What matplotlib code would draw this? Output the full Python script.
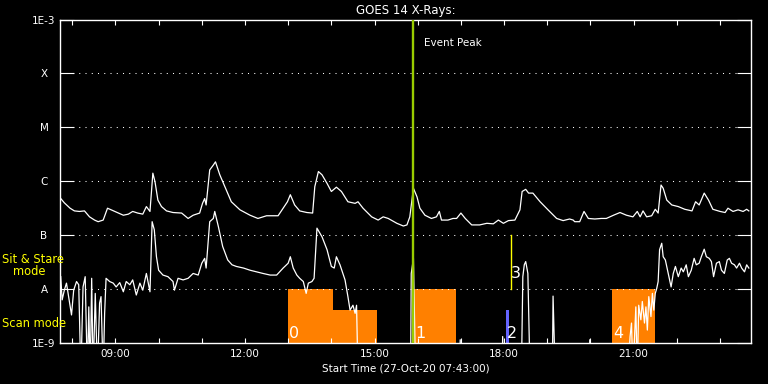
import numpy as np
import matplotlib
matplotlib.use("Agg")
import matplotlib.pyplot as plt
from matplotlib.ticker import NullLocator

# start of the plot window, minutes after midnight (07:43)
t0 = 7 * 60 + 43

# GOES long channel (1-8 A): minutes after start, log10 flux
long_t = [1, 6, 14, 20, 27, 34, 41, 48, 53, 60,
          66, 71, 81, 88, 95, 101, 108, 115, 120, 125,
          129, 132, 136, 141, 148, 157, 169, 178, 185, 194,
          198, 201, 203, 208, 213, 216, 222, 229, 238, 250,
          264, 275, 287, 303, 310, 316, 320, 326, 333, 343,
          351, 354, 359, 364, 371, 377, 384, 391, 400, 410,
          414, 421, 433, 442, 449, 456, 468, 477, 482, 486,
          491, 496, 500, 507, 516, 523, 527, 530, 539, 546,
          551, 557, 563, 572, 583, 593, 602, 609, 616, 623,
          632, 639, 642, 647, 651, 657, 667, 678, 690, 699,
          708, 713, 715, 722, 728, 734, 743, 752, 759, 769,
          778, 787, 796, 802, 806, 810, 815, 822, 827, 831,
          835, 838, 843, 850, 859, 868, 878, 883, 888, 895,
          901, 907, 917, 924, 928, 935, 942, 949, 954, 957]
long_log = [-6.32, -6.40, -6.50, -6.55, -6.56, -6.55, -6.66, -6.72, -6.75, -6.72,
            -6.50, -6.53, -6.59, -6.63, -6.61, -6.56, -6.59, -6.61, -6.47, -6.56,
            -5.85, -6.01, -6.35, -6.47, -6.55, -6.58, -6.59, -6.69, -6.63, -6.59,
            -6.41, -6.32, -6.44, -5.79, -5.70, -5.64, -5.88, -6.10, -6.38, -6.53,
            -6.63, -6.69, -6.64, -6.64, -6.50, -6.38, -6.25, -6.44, -6.55, -6.58,
            -6.59, -6.10, -5.82, -5.88, -6.04, -6.19, -6.11, -6.19, -6.38, -6.41,
            -6.38, -6.50, -6.66, -6.72, -6.66, -6.69, -6.78, -6.83, -6.81, -6.66,
            -6.13, -6.29, -6.50, -6.63, -6.69, -6.66, -6.56, -6.72, -6.72, -6.69,
            -6.69, -6.59, -6.69, -6.81, -6.81, -6.78, -6.79, -6.72, -6.78, -6.73,
            -6.72, -6.53, -6.19, -6.15, -6.22, -6.22, -6.38, -6.53, -6.69, -6.73,
            -6.70, -6.72, -6.75, -6.75, -6.56, -6.69, -6.70, -6.69, -6.69, -6.63,
            -6.58, -6.63, -6.66, -6.56, -6.66, -6.55, -6.66, -6.64, -6.52, -6.59,
            -6.07, -6.13, -6.35, -6.44, -6.47, -6.52, -6.55, -6.38, -6.44, -6.22,
            -6.35, -6.52, -6.56, -6.58, -6.50, -6.56, -6.53, -6.56, -6.52, -6.55]

# GOES short channel (0.5-4 A); -9.6 means below the bottom of the plot
short_t = [1, 3, 6, 9, 12, 16, 19, 23, 26, 29,
           32, 35, 38, 40, 42, 44, 46, 49, 52, 55,
           57, 60, 62, 64, 69, 74, 78, 83, 88, 92,
           97, 101, 106, 111, 115, 120, 125, 128, 131, 134,
           137, 143, 150, 157, 159, 164, 171, 178, 185, 192,
           197, 201, 203, 208, 213, 215, 220, 226, 233, 239,
           245, 255, 264, 273, 282, 292, 301, 310, 317, 320,
           324, 329, 333, 338, 342, 345, 350, 353, 357, 364,
           371, 377, 381, 384, 389, 396, 400, 403, 407, 410,
           412, 414, 487, 488, 491, 494, 555, 556, 557, 614,
           615, 616, 641, 643, 645, 647, 650, 653, 684, 685,
           688, 735, 736, 737, 789, 792, 794, 796, 800, 802,
           804, 807, 809, 812, 814, 816, 818, 821, 823, 825,
           827, 829, 831, 833, 836, 838, 841, 845, 849, 852,
           855, 859, 863, 866, 870, 873, 877, 881, 884, 888,
           891, 895, 898, 902, 905, 908, 912, 916, 919, 923,
           927, 930, 933, 937, 940, 944, 947, 951, 954, 957]
short_log = [-7.77, -8.20, -8.02, -7.89, -8.14, -8.48, -8.02, -7.86, -7.92, -9.6,
             -7.96, -7.77, -9.6, -8.33, -9.6, -7.80, -9.6, -8.08, -9.6, -8.26,
             -8.14, -9.6, -8.45, -7.80, -7.86, -7.89, -7.96, -7.88, -8.05, -7.86,
             -7.92, -7.83, -8.11, -7.89, -8.02, -7.71, -8.05, -6.75, -6.90, -7.40,
             -7.65, -7.74, -7.77, -7.86, -8.02, -7.80, -7.83, -7.80, -7.71, -7.74,
             -7.52, -7.43, -7.61, -6.75, -6.69, -6.56, -6.84, -7.21, -7.46, -7.55,
             -7.58, -7.61, -7.65, -7.68, -7.71, -7.74, -7.74, -7.61, -7.52, -7.40,
             -7.61, -7.74, -7.80, -7.86, -8.08, -7.89, -7.86, -7.80, -6.87, -7.03,
             -7.27, -7.58, -7.61, -7.40, -7.55, -7.83, -8.14, -8.39, -8.30, -8.45,
             -8.30, -9.6, -9.6, -7.71, -7.43, -9.6, -9.6, -8.94, -9.6, -9.6,
             -8.88, -9.6, -9.6, -7.77, -7.55, -7.49, -7.71, -9.6, -9.6, -8.13,
             -9.6, -9.6, -8.94, -9.6, -9.6, -8.88, -8.63, -9.6, -8.33, -9.6,
             -8.30, -8.57, -8.23, -8.63, -8.33, -8.76, -8.14, -8.51, -8.08, -8.39,
             -8.08, -7.99, -7.86, -7.27, -7.15, -7.40, -7.46, -7.71, -7.96, -7.71,
             -7.58, -7.77, -7.61, -7.68, -7.55, -7.77, -7.65, -7.43, -7.55, -7.52,
             -7.40, -7.26, -7.40, -7.43, -7.49, -7.77, -7.52, -7.49, -7.65, -7.71,
             -7.46, -7.43, -7.52, -7.55, -7.61, -7.52, -7.61, -7.68, -7.55, -7.61]

# observation blocks (orange), minutes after start
obs_start = [317, 379, 492, 767]
obs_end = [379, 440, 550, 827]
obs_top = [1e-8, 4.1e-9, 1e-8, 1e-8]

# other event markers
scan_start, scan_end, scan_top = 620, 624, 4.1e-9   # blue bar "2"
stare_t, stare_lo, stare_hi = 626, 1e-8, 1e-7       # yellow line "3"
peak_t = 490

event_labels = ['0', '1', '2', '3', '4']
label_t = [318, 493, 621, 627, 768]
label_y = [1.22e-9, 1.22e-9, 1.22e-9, 1.58e-8, 1.22e-9]

ytick_vals = [1e-9, 1e-8, 1e-7, 1e-6, 1e-5, 1e-4, 1e-3]
ytick_text = ['1E-9', 'A', 'B', 'C', 'M', 'X', '1E-3']
xtick_hours = list(range(8, 24))
xlabel_hours = [9, 12, 15, 18, 21]

fig = plt.figure(figsize=(7.68, 3.84), dpi=100, facecolor='black')
ax = fig.add_axes([60 / 768, 41 / 384, 691 / 768, 323.5 / 384])
ax.set_facecolor('black')
ax.set_yscale('log')
ax.set_xlim(t0, t0 + 960)
ax.set_ylim(1e-9, 1e-3)

# orange observation boxes
for s, e, top in zip(obs_start, obs_end, obs_top):
    ax.bar(t0 + s, top - 1e-9, width=e - s, bottom=1e-9, align='edge',
           color='#ff8000', linewidth=0, zorder=1)
ax.bar(t0 + scan_start, scan_top - 1e-9, width=scan_end - scan_start, bottom=1e-9,
       align='edge', color='#6464ff', linewidth=0, zorder=1)
ax.plot([t0 + stare_t] * 2, [stare_lo, stare_hi], color='#ffff00', lw=1.0, zorder=2)

# dotted class lines
for yv in ytick_vals[1:-1]:
    ax.axhline(yv, color='white', lw=0.75, dashes=(1, 5), zorder=1.5)

ax.plot(t0 + np.array(long_t), 10.0 ** np.array(long_log), color='white', lw=0.9, zorder=2)
ax.plot(t0 + np.array(short_t), 10.0 ** np.array(short_log), color='white', lw=0.9, zorder=2)

ax.axvline(t0 + peak_t, color='#99cc00', lw=1.7, zorder=3)
ax.text(t0 + peak_t + 16, 10 ** -3.50, 'Event Peak', color='white', fontsize=7.5,
        va='baseline', ha='left')

for lab, t, y in zip(event_labels, label_t, label_y):
    ax.text(t0 + t, y, lab, color='white', fontsize=11.5, va='baseline', ha='left', zorder=4)

# axes styling
for sp in ax.spines.values():
    sp.set_color('white')
    sp.set_linewidth(1.0)

ax.yaxis.set_minor_locator(NullLocator())
ax.set_yticks(ytick_vals)
ax.set_yticklabels(ytick_text)
ax.tick_params(axis='y', which='major', direction='in', left=True, right=True,
               length=10, width=0.8, colors='white', labelsize=7.5, pad=11.5)
for lbl in ax.get_yticklabels():
    lbl.set_ha('center')

ax.set_xticks([h * 60 for h in xtick_hours])
ax.set_xticklabels(['%02d:00' % h if h in xlabel_hours else '' for h in xtick_hours])
ax.tick_params(axis='x', which='major', direction='in', top=True, bottom=True,
               length=3.6, width=0.8, colors='white', labelsize=7.5, pad=4.5)

ax.set_title('GOES 14 X-Rays:', color='white', fontsize=8.5, pad=3.8)
fig.text(405.5 / 768, (384 - 371.7) / 384, 'Start Time (27-Oct-20 07:43:00)',
         color='white', fontsize=7.5, ha='center', va='baseline')

# instrument mode labels on the left
fig.text(2 / 768, (384 - 262.7) / 384, 'Sit & Stare', color='#ffff00', fontsize=8.3,
         va='baseline')
fig.text(12.7 / 768, (384 - 275) / 384, 'mode', color='#ffff00', fontsize=8.3,
         va='baseline')
fig.text(2 / 768, (384 - 327.3) / 384, 'Scan mode', color='#ffff00', fontsize=8.3,
         va='baseline')

fig.savefig('out.png', dpi=100, facecolor='black')
